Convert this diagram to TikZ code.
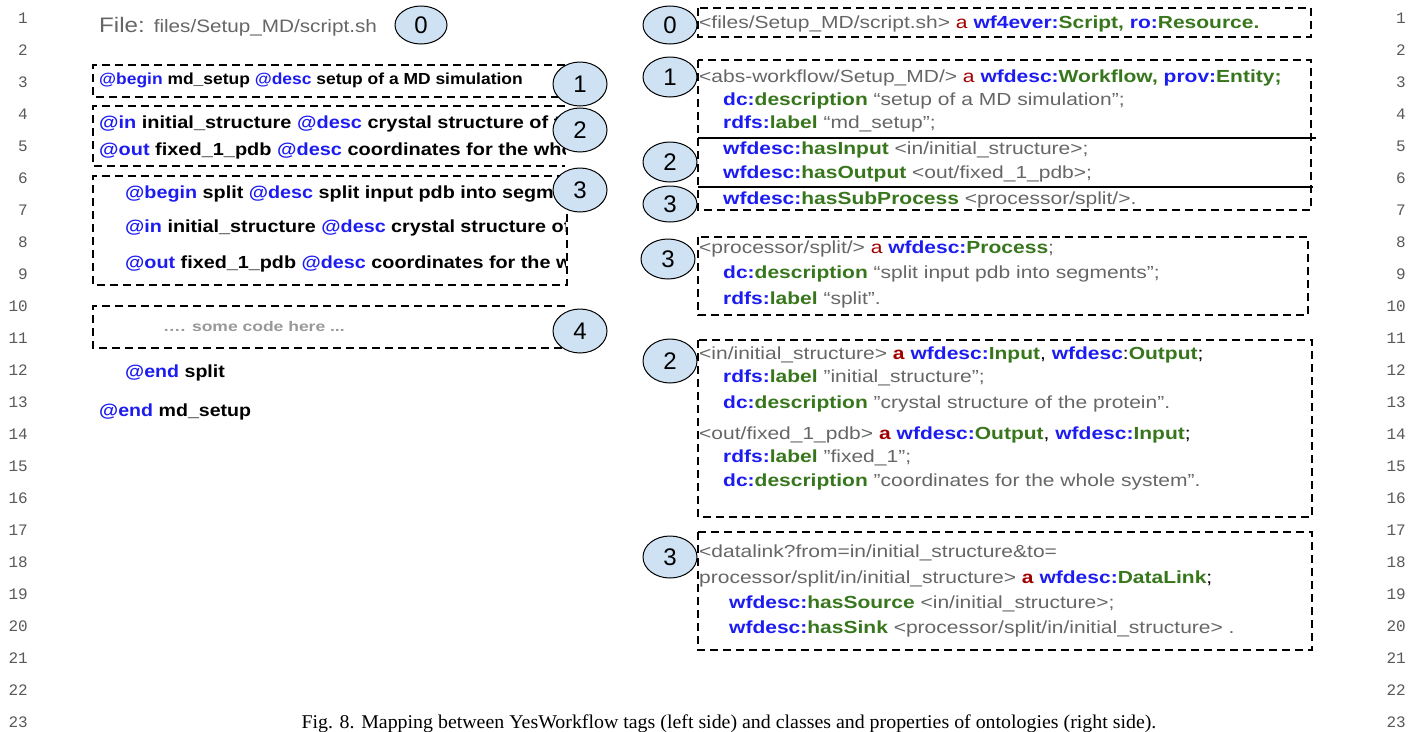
\documentclass[tikz,border=0pt]{standalone}
\usepackage{fontspec}
\usepackage{xcolor}
\setmainfont{Liberation Sans}
\setmonofont{Liberation Mono}
\newfontfamily\capfont{Liberation Serif}
\usetikzlibrary{shapes.geometric}

\definecolor{tagblue}{HTML}{1C1CF0}
\definecolor{ontgreen}{HTML}{38761D}
\definecolor{kwred}{HTML}{A00000}
\definecolor{irigray}{HTML}{666666}
\definecolor{markfill}{HTML}{CFE2F3}

\newcommand{\yw}[1]{\textcolor{tagblue}{#1}}
\newcommand{\pfx}[1]{\textcolor{tagblue}{\textbf{#1}}}
\newcommand{\trm}[1]{\textcolor{ontgreen}{\textbf{#1}}}
\newcommand{\kwa}{\textcolor{kwred}{a}}
\newcommand{\kwb}{\textcolor{kwred}{\textbf{a}}}
\newcommand{\blk}[1]{\textcolor{black}{#1}}
\newcommand{\dq}{\symbol{34}}
\newcommand{\hs}[2]{\scalebox{#1}[1]{#2}}

\begin{document}
\begin{tikzpicture}[x=1pt,y=-1pt,
  dbox/.style={draw,line width=1.8pt,dash pattern=on 8pt off 5pt},
  marker/.style={ellipse,draw,fill=markfill,line width=1pt,inner sep=0pt,
    minimum width=54pt,minimum height=42pt,font=\fontsize{24}{24}\selectfont},
  ytag/.style={anchor=base west,inner sep=0pt,font=\fontsize{17.5}{17.5}\selectfont\bfseries},
  rdf/.style={anchor=base west,inner sep=0pt,font=\fontsize{17.5}{17.5}\selectfont,irigray},
  lnum/.style={anchor=base east,inner sep=0pt,font=\ttfamily\fontsize{16}{16}\selectfont,black!65}]
  \useasboundingbox (0,0) rectangle (1418,731);

  % line numbers
  \foreach \n in {1,...,23} {
    \node[lnum] (lnl\n) at (28,{23+32*(\n-1)}) {\n};
    \node[lnum] (lnr\n) at (1406,{23+32*(\n-1)}) {\n};
  }

  % left side: YesWorkflow script
  \node[anchor=base west,inner sep=0pt,irigray] (file) at (99,32)
    {\hs{1.15}{\fontsize{21}{21}\selectfont File: \fontsize{18}{18}\selectfont files/Setup\_MD/script.sh}};
  \draw[dbox] (565,65) -- (93,65) -- (93,97) -- (565,97);
  \draw[dbox] (565,106) -- (93,106) -- (93,166) -- (565,166);
  \draw[dbox] (565,176) -- (93,176) -- (93,285) -- (567,285) -- (567,210);
  \draw[dbox] (565,306) -- (93,306) -- (93,348) -- (565,348);
  \begin{scope}
    \clip (90,60) rectangle (565,300);
    \node[ytag,font=\fontsize{16}{16}\selectfont\bfseries] (bmd) at (99,84) {\hs{1.09}{\yw{@begin} md\_setup \yw{@desc} setup of a MD simulation}};
    \node[ytag] (inmd) at (99,128) {\hs{1.14}{\yw{@in} initial\_structure \yw{@desc} crystal structure of the protein}};
    \node[ytag] (outmd) at (99,155) {\hs{1.14}{\yw{@out} fixed\_1\_pdb \yw{@desc} coordinates for the whole system}};
    \node[ytag] (bsp) at (125,198) {\hs{1.13}{\yw{@begin} split \yw{@desc} split input pdb into segments}};
    \node[ytag] (insp) at (125,232) {\hs{1.13}{\yw{@in} initial\_structure \yw{@desc} crystal structure of the protein}};
    \node[ytag] (outsp) at (125,268) {\hs{1.13}{\yw{@out} fixed\_1\_pdb \yw{@desc} coordinates for the whole system}};
  \end{scope}
  \node[ytag,font=\fontsize{14}{14}\selectfont\bfseries,black!40] (code) at (163,331) {\hs{1.25}{…. some code here ...}};
  \node[ytag] (esp) at (125,377) {\hs{1.12}{\yw{@end} split}};
  \node[ytag] (emd) at (99,416) {\hs{1.12}{\yw{@end} md\_setup}};

  \node[marker,minimum height=38pt,minimum width=52pt] (l0) at (421,25) {0};
  \node[marker,minimum height=44pt] (l1) at (580,84) {1};
  \node[marker,minimum height=44pt] (l2) at (580,130) {2};
  \node[marker,minimum height=44pt] (l3) at (580,190) {3};
  \node[marker,minimum height=44pt] (l4) at (580,331) {4};

  % right side: RDF mapping
  \draw[dbox] (698,8) rectangle (1311,37);
  \node[rdf] (rscript) at (699,28) {\hs{1.2}{<files/Setup\_MD/script.sh> \kwa{} \pfx{wf4ever:}\trm{Script, }\pfx{ro:}\trm{Resource.}}};

  \draw[dbox] (698,60) rectangle (1311,210);
  \node[rdf] (rwf) at (699,82) {\hs{1.2}{<abs-workflow/Setup\_MD/> \kwa{} \pfx{wfdesc:}\trm{Workflow, }\pfx{prov:}\trm{Entity;}}};
  \node[rdf] (rwfd) at (723,105) {\hs{1.2}{\pfx{dc:}\trm{description} “setup of a MD simulation”;}};
  \node[rdf] (rwfl) at (723,128) {\hs{1.2}{\pfx{rdfs:}\trm{label} “md\_setup”;}};
  \draw[line width=1.8pt] (698,138) -- (1316,138);
  \node[rdf] (rwfi) at (723,154) {\hs{1.2}{\pfx{wfdesc:}\trm{hasInput} <in/initial\_structure>;}};
  \node[rdf] (rwfo) at (723,178) {\hs{1.2}{\pfx{wfdesc:}\trm{hasOutput} <out/fixed\_1\_pdb>;}};
  \draw[line width=1.8pt] (698,187) -- (1313,187);
  \node[rdf] (rwfs) at (723,204) {\hs{1.2}{\pfx{wfdesc:}\trm{hasSubProcess} <processor/split/>.}};

  \draw[dbox] (698,237) rectangle (1308,315);
  \node[rdf] (rpr) at (699,253) {\hs{1.2}{<processor/split/> \kwa{} \pfx{wfdesc:}\trm{Process};}};
  \node[rdf] (rprd) at (723,278) {\hs{1.2}{\pfx{dc:}\trm{description} “split input pdb into segments”;}};
  \node[rdf] (rprl) at (723,304) {\hs{1.2}{\pfx{rdfs:}\trm{label} “split”.}};

  \draw[dbox] (698,340) rectangle (1312,517);
  \node[rdf] (rin) at (699,359) {\hs{1.2}{<in/initial\_structure> \kwb{} \pfx{wfdesc:}\trm{Input}\blk{,} \pfx{wfdesc}\blk{:}\trm{Output}\blk{;}}};
  \node[rdf] (rinl) at (723,382) {\hs{1.2}{\pfx{rdfs:}\trm{label} \dq initial\_structure\dq;}};
  \node[rdf] (rind) at (723,408) {\hs{1.2}{\pfx{dc:}\trm{description} \dq crystal structure of the protein\dq.}};
  \node[rdf] (rout) at (699,439) {\hs{1.2}{<out/fixed\_1\_pdb> \kwb{} \pfx{wfdesc:}\trm{Output}\blk{,} \pfx{wfdesc:}\trm{Input}\blk{;}}};
  \node[rdf] (routl) at (723,462) {\hs{1.2}{\pfx{rdfs:}\trm{label} \dq fixed\_1\dq;}};
  \node[rdf] (routd) at (723,486) {\hs{1.2}{\pfx{dc:}\trm{description} \dq coordinates for the whole system\dq.}};

  \draw[dbox] (698,532) rectangle (1312,650);
  \node[rdf] (rdl) at (699,557) {\hs{1.2}{<datalink?from=in/initial\_structure\&to=}};
  \node[rdf] (rdl2) at (699,583) {\hs{1.2}{processor/split/in/initial\_structure> \kwb{} \pfx{wfdesc:}\trm{DataLink}\blk{;}}};
  \node[rdf] (rdls) at (729,608) {\hs{1.2}{\pfx{wfdesc:}\trm{hasSource} <in/initial\_structure>;}};
  \node[rdf] (rdlk) at (729,633) {\hs{1.2}{\pfx{wfdesc:}\trm{hasSink} <processor/split/in/initial\_structure> .}};

  \node[marker,minimum height=38pt] (r0) at (670,25) {0};
  \node[marker,minimum height=40pt] (r1) at (670,77) {1};
  \node[marker,minimum height=40pt] (r2) at (670,162) {2};
  \node[marker,minimum height=36pt] (r3) at (670,204) {3};
  \node[marker,minimum height=40pt] (r3b) at (668,259) {3};
  \node[marker,minimum height=44pt] (r2b) at (670,361) {2};
  \node[marker,minimum height=42pt] (r3c) at (670,557) {3};

  % caption
  \node[anchor=base,inner sep=0pt,font=\capfont\fontsize{19.5}{19.5}\selectfont] (cap) at (729,728)
    {\hs{1.02}{Fig. 8. Mapping between YesWorkflow tags (left side) and classes and properties of ontologies (right side).}};
\end{tikzpicture}
\end{document}
